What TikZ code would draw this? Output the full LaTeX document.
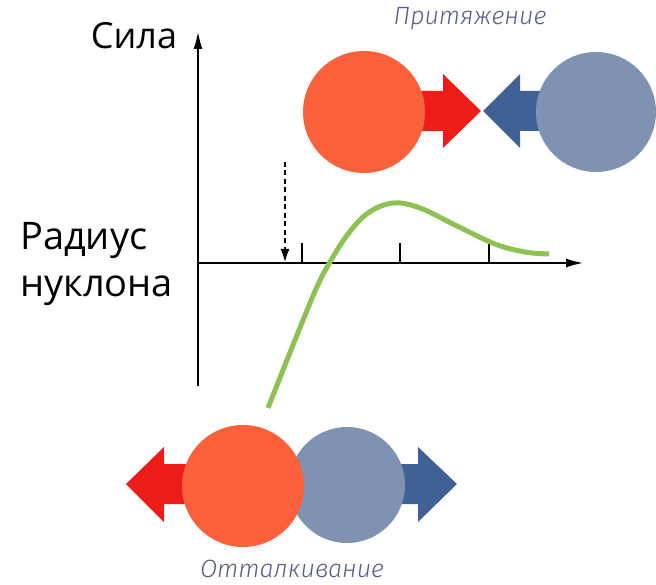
\documentclass[tikz,border=0pt]{standalone}
\usepackage{fontspec}
\setmainfont{Open Sans}
\newfontfamily\thinital{Fira Sans Light Italic}
\usetikzlibrary{arrows.meta}
\definecolor{nucOrange}{RGB}{250,96,58}
\definecolor{nucBlue}{RGB}{127,146,177}
\definecolor{arrRed}{RGB}{238,28,24}
\definecolor{arrBlue}{RGB}{65,96,150}
\definecolor{curveGreen}{RGB}{141,193,83}
\definecolor{labelInk}{RGB}{88,92,135}
\tikzset{
  nucleon/.style={circle,inner sep=0pt,minimum size=#1,draw=none},
  axisline/.style={line width=1.4pt,-{Latex[length=17pt,width=9pt]}},
  tickline/.style={line width=1.4pt},
  bigtext/.style={font=\fontsize{36}{44}\selectfont,text=black,inner sep=0pt},
  itlabel/.style={font=\thinital\fontsize{25}{28}\selectfont,text=labelInk,inner sep=0pt},
}
\begin{document}
\begin{tikzpicture}[x=1pt,y=-1pt]
\useasboundingbox (0,0) rectangle (656,585);
% axes
\coordinate (o) at (198,263);
\coordinate (ytop) at (198,32);
\coordinate (ybot) at (198,386);
\coordinate (xend) at (583,263);
\draw[tickline] (ybot) -- (o);
\draw[axisline] (o) -- (ytop);
\draw[axisline] (o) -- (xend);
\foreach \tx in {302,400,489} \draw[tickline] (\tx,263) -- (\tx,243);
% dashed arrow
\coordinate (dtop) at (285,162);
\coordinate (dtip) at (285,262);
\draw[line width=1.3pt,dash pattern=on 5pt off 3.5pt,-{Latex[length=13pt,width=9pt]}] (dtop) -- (dtip);
% labels
\node[bigtext] (sila) at (134,36) {Сила};
\node[align=left,anchor=north west,inner sep=0pt,font=\fontsize{38}{47}\selectfont] (rad) at (20,222) {Радиус\\нуклона};
% curve
\draw[curveGreen,line width=5pt] plot[smooth,tension=0.6] coordinates {(268,408) (293,345) (316,289) (330,262) (348,234) (368,213) (393,203) (420,208) (455,225) (495,244) (525,252) (549,254)};
% top: attraction
\fill[arrRed] (410,91) -- (443,91) -- (443,74) -- (481,111) -- (443,148) -- (443,131) -- (410,131) -- cycle;
\fill[arrBlue] (560,91) -- (520,91) -- (520,74) -- (483,111) -- (520,148) -- (520,131) -- (560,131) -- cycle;
\node[nucleon=122pt,fill=nucOrange] (p1) at (364,112) {};
\node[nucleon=120pt,fill=nucBlue] (n1) at (596,112) {};
\node[itlabel] (attr) at (470,19) {Притяжение};
% bottom: repulsion
\fill[arrRed] (205,464) -- (164,464) -- (164,447) -- (126,484) -- (164,522) -- (164,504) -- (205,504) -- cycle;
\fill[arrBlue] (380,464) -- (418,464) -- (418,447) -- (457,484) -- (418,522) -- (418,504) -- (380,504) -- cycle;
\node[nucleon=116pt,fill=nucBlue] (n2) at (347,485) {};
\node[nucleon=122pt,fill=nucOrange] (p2) at (243,486) {};
\node[itlabel] (rep) at (292,569) {Отталкивание};
\end{tikzpicture}
\end{document}
